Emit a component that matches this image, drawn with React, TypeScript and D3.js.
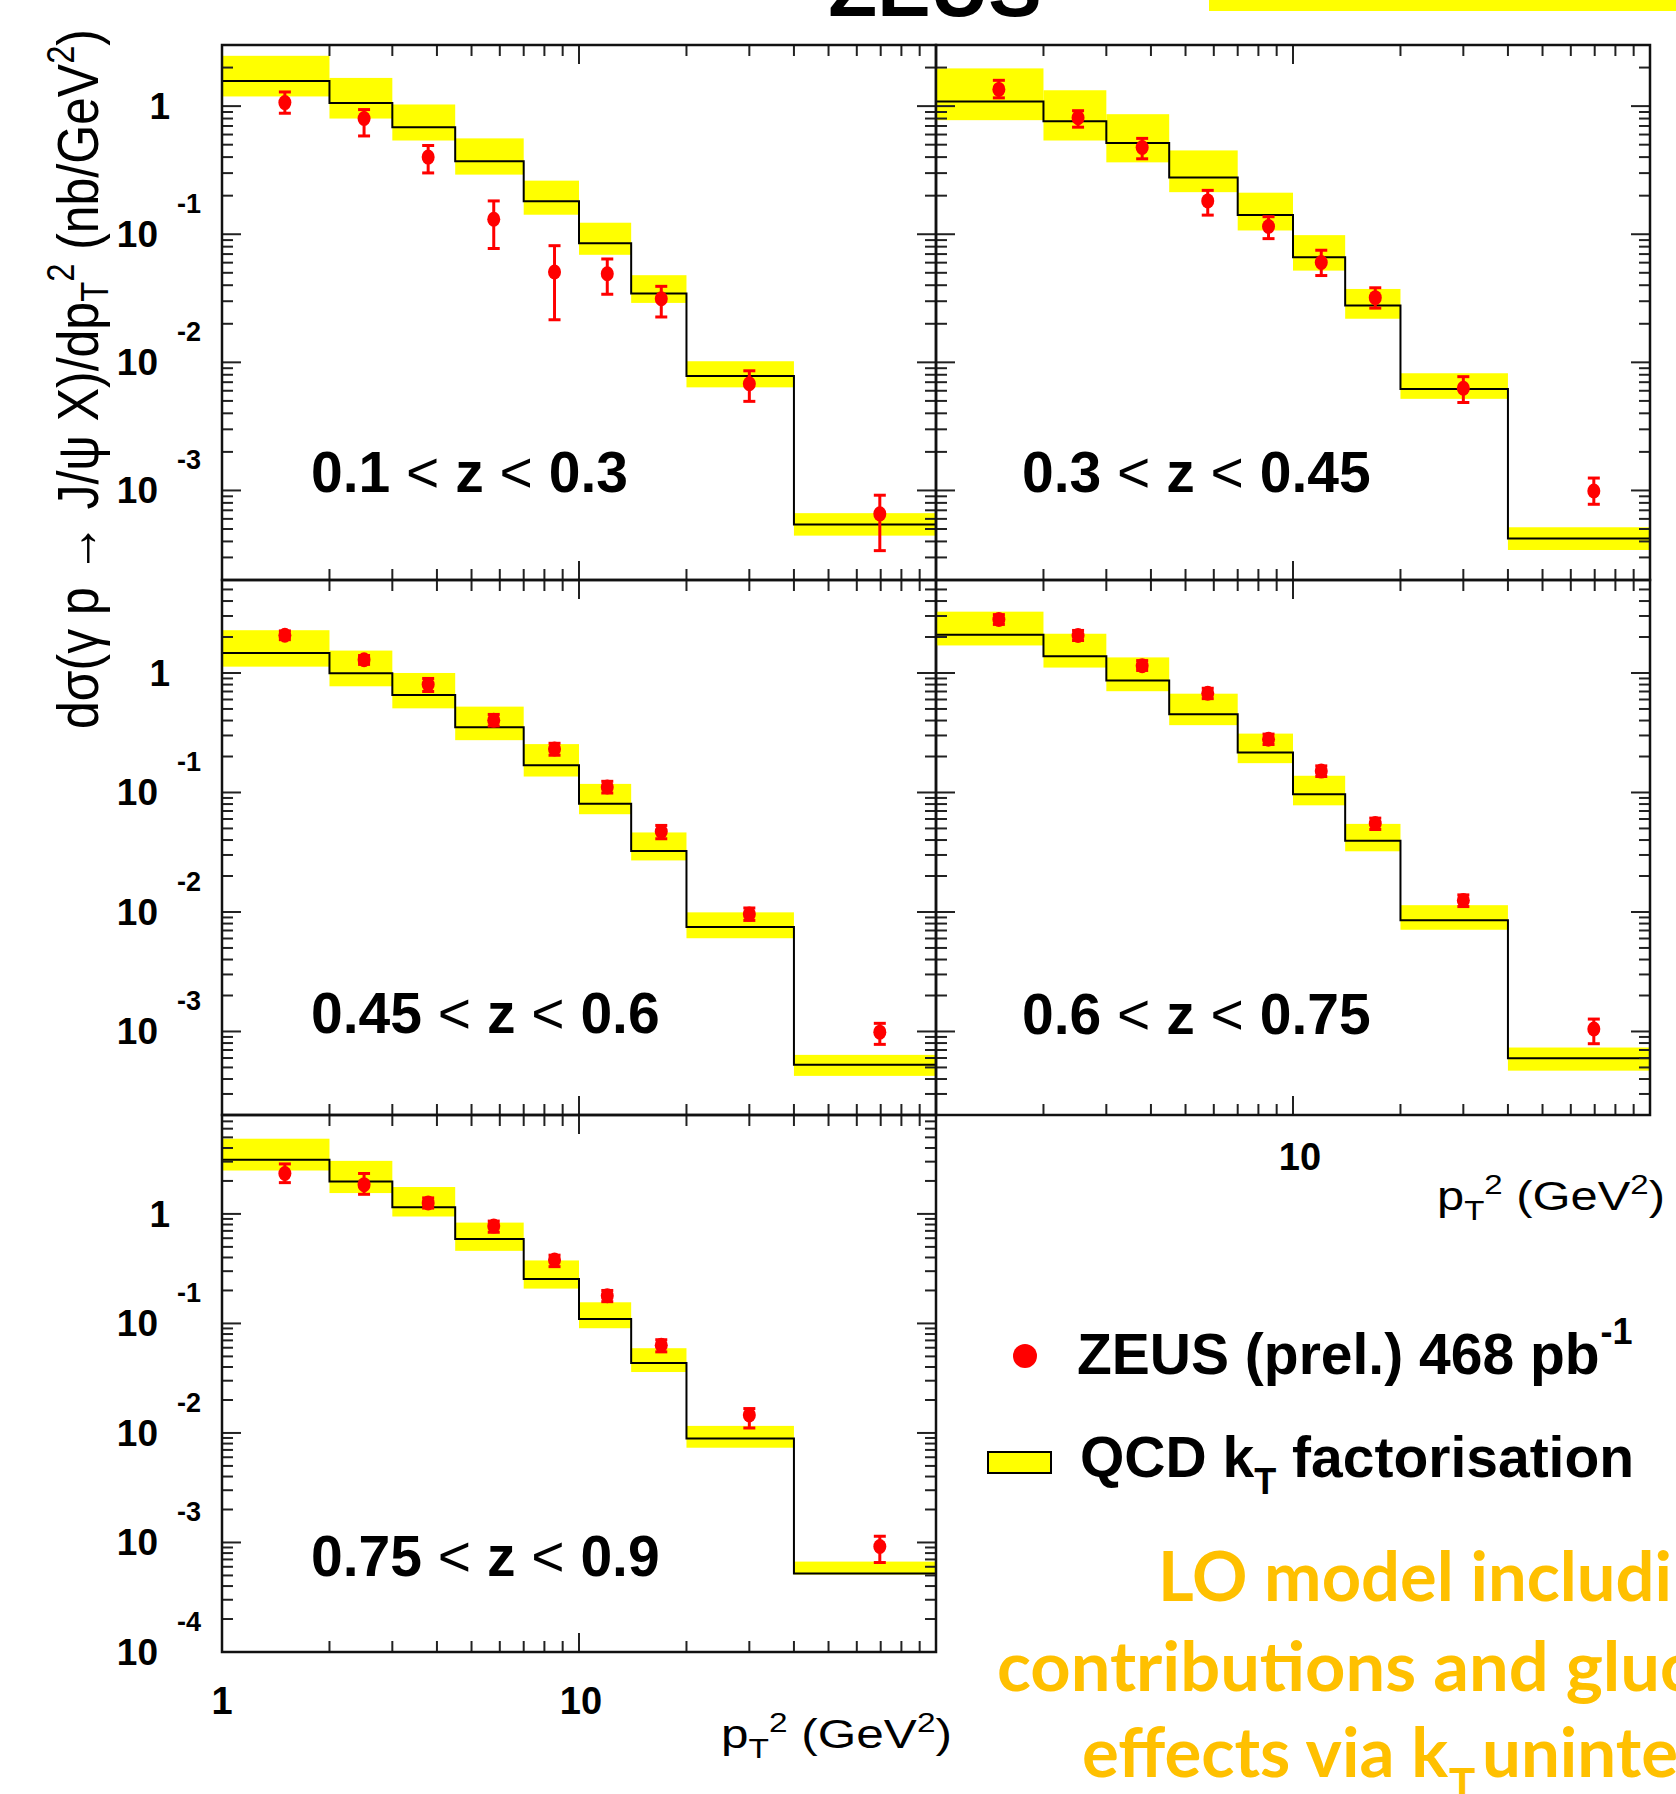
import React from "react";
import * as d3 from "d3";

// p_T^2 bins (GeV^2) and the bin centres where the data points sit
const binEdges = [1, 2, 3, 4.5, 7, 10, 14, 20, 40, 100];
const pointPt2 = [1.5, 2.5, 3.78, 5.77, 8.54, 12, 17, 30, 69.6];

const zLabels = [
  ["0.1", "0.3"],
  ["0.3", "0.45"],
  ["0.45", "0.6"],
  ["0.6", "0.75"],
  ["0.75", "0.9"],
];

// 0.1 < z < 0.3
const qcdZ1 = [1.57, 1.06, 0.684, 0.371, 0.181, 0.0851, 0.0345, 0.00782, 5.43e-4];
const qcdZ1Lo = [1.19, 0.8, 0.539, 0.292, 0.142, 0.0691, 0.0291, 0.00638, 4.44e-4];
const qcdZ1Hi = [2.47, 1.66, 1.03, 0.56, 0.262, 0.123, 0.0479, 0.0102, 6.65e-4];
const zeusZ1 = [1.065, 0.8, 0.4, 0.131, 0.0507, 0.0491, 0.0314, 0.00681, 6.57e-4];
const zeusZ1Lo = [0.88, 0.585, 0.301, 0.0774, 0.0215, 0.034, 0.0226, 0.00496, 3.39e-4];
const zeusZ1Hi = [1.29, 0.94, 0.493, 0.182, 0.0814, 0.0641, 0.0392, 0.00859, 9.18e-4];

// 0.3 < z < 0.45
const qcdZ2 = [1.086, 0.762, 0.515, 0.277, 0.141, 0.0661, 0.0278, 0.00619, 4.22e-4];
const qcdZ2Lo = [0.777, 0.539, 0.364, 0.213, 0.107, 0.052, 0.0219, 0.00519, 3.43e-4];
const qcdZ2Hi = [1.97, 1.33, 0.865, 0.451, 0.211, 0.0984, 0.0374, 0.00822, 5.16e-4];
const zeusZ2 = [1.35, 0.812, 0.475, 0.182, 0.115, 0.0601, 0.032, 0.00627, 9.9e-4];
const zeusZ2Lo = [1.16, 0.685, 0.388, 0.141, 0.0924, 0.0476, 0.0265, 0.00486, 7.8e-4];
const zeusZ2Hi = [1.59, 0.921, 0.56, 0.22, 0.137, 0.075, 0.0382, 0.00773, 1.25e-3];

// 0.45 < z < 0.6
const qcdZ3 = [1.47, 0.993, 0.653, 0.351, 0.169, 0.0805, 0.0324, 0.00748, 5.27e-4];
const qcdZ3Lo = [1.13, 0.774, 0.506, 0.274, 0.136, 0.0658, 0.027, 0.00603, 4.25e-4];
const qcdZ3Hi = [2.28, 1.54, 1.0, 0.523, 0.254, 0.118, 0.0463, 0.00993, 6.37e-4];
const zeusZ3 = [2.07, 1.29, 0.8, 0.402, 0.231, 0.111, 0.0472, 0.0096, 9.87e-4];
const zeusZ3Lo = [1.9, 1.18, 0.7, 0.36, 0.205, 0.099, 0.041, 0.0085, 7.8e-4];
const zeusZ3Hi = [2.25, 1.4, 0.9, 0.45, 0.258, 0.124, 0.053, 0.0108, 1.17e-3];

// 0.6 < z < 0.75
const qcdZ4 = [2.09, 1.38, 0.866, 0.451, 0.216, 0.0966, 0.0395, 0.00853, 5.97e-4];
const qcdZ4Lo = [1.7, 1.11, 0.704, 0.366, 0.176, 0.0781, 0.0322, 0.0071, 4.7e-4];
const qcdZ4Hi = [3.26, 2.13, 1.35, 0.671, 0.311, 0.138, 0.0546, 0.0114, 7.34e-4];
const zeusZ4 = [2.8, 2.06, 1.15, 0.676, 0.279, 0.151, 0.055, 0.0125, 1.05e-3];
const zeusZ4Lo = [2.55, 1.87, 1.05, 0.61, 0.252, 0.136, 0.049, 0.0111, 7.9e-4];
const zeusZ4Hi = [3.08, 2.27, 1.27, 0.745, 0.308, 0.167, 0.061, 0.0139, 1.27e-3];

// 0.75 < z < 0.9
const qcdZ5 = [3.13, 1.98, 1.15, 0.589, 0.254, 0.11, 0.0435, 0.00888, 5.2e-4];
const qcdZ5Lo = [2.49, 1.55, 0.947, 0.46, 0.208, 0.0904, 0.036, 0.00733, 5.1e-4];
const qcdZ5Hi = [4.86, 3.05, 1.76, 0.833, 0.376, 0.156, 0.0594, 0.0116, 6.69e-4];
const zeusZ5 = [2.34, 1.85, 1.26, 0.774, 0.38, 0.179, 0.0633, 0.0146, 9.2e-4];
const zeusZ5Lo = [1.93, 1.51, 1.13, 0.68, 0.33, 0.158, 0.055, 0.0111, 6.56e-4];
const zeusZ5Hi = [2.86, 2.34, 1.4, 0.86, 0.42, 0.2, 0.071, 0.0167, 1.14e-3];

// y-axis decades labelled per row
const rowDomain = [
  [2e-4, 3],
  [2e-4, 6],
  [1e-4, 8],
];
const rowTickExp = [
  [0, -1, -2, -3],
  [0, -1, -2, -3],
  [0, -1, -2, -3, -4],
];

// layout
const W = 1676;
const H = 1794;
const colX = [
  [222, 936],
  [936, 1650],
];
const rowY = [
  [45, 580],
  [580, 1115],
  [1115, 1652],
];
const FONT = "'Liberation Sans', Arial, Helvetica, sans-serif";

const panels = [
  { row: 0, col: 0, qcd: qcdZ1, lo: qcdZ1Lo, hi: qcdZ1Hi, d: zeusZ1, dLo: zeusZ1Lo, dHi: zeusZ1Hi, lx: 311, ly: 492 },
  { row: 0, col: 1, qcd: qcdZ2, lo: qcdZ2Lo, hi: qcdZ2Hi, d: zeusZ2, dLo: zeusZ2Lo, dHi: zeusZ2Hi, lx: 1022, ly: 492 },
  { row: 1, col: 0, qcd: qcdZ3, lo: qcdZ3Lo, hi: qcdZ3Hi, d: zeusZ3, dLo: zeusZ3Lo, dHi: zeusZ3Hi, lx: 311, ly: 1033 },
  { row: 1, col: 1, qcd: qcdZ4, lo: qcdZ4Lo, hi: qcdZ4Hi, d: zeusZ4, dLo: zeusZ4Lo, dHi: zeusZ4Hi, lx: 1022, ly: 1034 },
  { row: 2, col: 0, qcd: qcdZ5, lo: qcdZ5Lo, hi: qcdZ5Hi, d: zeusZ5, dLo: zeusZ5Lo, dHi: zeusZ5Hi, lx: 311, ly: 1576 },
];

function Panel({ p, idx }: { p: any; idx: number }) {
  const [x0, x1] = colX[p.col];
  const [y0, y1] = rowY[p.row];
  const x = d3.scaleLog().domain([1, 100]).range([x0, x1]);
  const y = d3.scaleLog().domain(rowDomain[p.row]).range([y1, y0]);
  const clipId = "clip" + idx;

  const stepPts: [number, number][] = p.qcd.map((v: number, i: number) => [binEdges[i], v]);
  stepPts.push([binEdges[binEdges.length - 1], p.qcd[p.qcd.length - 1]]);
  const stepLine = d3
    .line<[number, number]>()
    .x((d) => x(d[0]))
    .y((d) => y(d[1]))
    .curve(d3.curveStepAfter);

  const xTicks: { v: number; major: boolean }[] = [];
  for (let e = 0; e <= 1; e++)
    for (let k = 1; k <= 9; k++) xTicks.push({ v: k * Math.pow(10, e), major: k === 1 });
  xTicks.push({ v: 100, major: true });

  const [dmin, dmax] = rowDomain[p.row];
  const yTicks: { v: number; major: boolean }[] = [];
  for (let e = Math.floor(Math.log10(dmin)); e <= Math.ceil(Math.log10(dmax)); e++)
    for (let k = 1; k <= 9; k++) {
      const v = k * Math.pow(10, e);
      if (v >= dmin * 0.999 && v <= dmax * 1.001) yTicks.push({ v, major: k === 1 });
    }

  const majL = 19;
  const minL = 11;
  const [zLo, zHi] = zLabels[idx];

  return (
    <g>
      <defs>
        <clipPath id={clipId}>
          <rect x={x0} y={y0} width={x1 - x0} height={y1 - y0} />
        </clipPath>
      </defs>
      <g clipPath={`url(#${clipId})`}>
        {p.qcd.map((_: number, i: number) => (
          <rect
            key={"b" + i}
            x={x(binEdges[i])}
            width={x(binEdges[i + 1]) - x(binEdges[i])}
            y={y(p.hi[i])}
            height={y(p.lo[i]) - y(p.hi[i])}
            fill="#ffff00"
          />
        ))}
        <path d={stepLine(stepPts) || ""} fill="none" stroke="#000" strokeWidth={2} />
      </g>
      {p.d.map((v: number, i: number) => {
        const cx = x(pointPt2[i]);
        const ya = y(p.dHi[i]);
        const yb = y(p.dLo[i]);
        return (
          <g key={"p" + i} stroke="#ff0000" strokeWidth={3}>
            <line x1={cx} x2={cx} y1={ya} y2={yb} />
            <line x1={cx - 6} x2={cx + 6} y1={ya} y2={ya} />
            <line x1={cx - 6} x2={cx + 6} y1={yb} y2={yb} />
            <ellipse cx={cx} cy={y(v)} rx={6.5} ry={7.5} fill="#ff0000" stroke="none" />
          </g>
        );
      })}
      <g stroke="#222" strokeWidth={2}>
        {xTicks.map((t, i) => {
          const xx = x(t.v);
          const l = t.major ? majL : minL;
          return (
            <g key={"xt" + i}>
              <line x1={xx} x2={xx} y1={y1} y2={y1 - l} />
              <line x1={xx} x2={xx} y1={y0} y2={y0 + l} />
            </g>
          );
        })}
        {yTicks.map((t, i) => {
          const yy = y(t.v);
          const l = t.major ? majL : minL;
          return (
            <g key={"yt" + i}>
              <line x1={x0} x2={x0 + l} y1={yy} y2={yy} />
              <line x1={x1} x2={x1 - l} y1={yy} y2={yy} />
            </g>
          );
        })}
      </g>
      <rect x={x0} y={y0} width={x1 - x0} height={y1 - y0} fill="none" stroke="#111" strokeWidth={2.5} />
      <text x={p.lx} y={p.ly} fontFamily={FONT} fontSize={57} fontWeight="bold" fill="#000">
        {zLo}
        <tspan fontWeight="normal">{" < "}</tspan>z<tspan fontWeight="normal">{" < "}</tspan>
        {zHi}
      </text>
      {p.col === 0 &&
        rowTickExp[p.row].map((e) => {
          const yy = y(Math.pow(10, e));
          if (e === 0)
            return (
              <text key={"yl" + e} x={170} y={yy + 13} textAnchor="end" fontFamily={FONT} fontSize={37} fontWeight="bold">
                1
              </text>
            );
          return (
            <g key={"yl" + e} fontFamily={FONT} fontWeight="bold">
              <text x={158} y={yy + 13} textAnchor="end" fontSize={37}>
                10
              </text>
              <text x={177} y={yy - 21} fontSize={27}>
                {String(e)}
              </text>
            </g>
          );
        })}
    </g>
  );
}

function AxisTitleX({ x, y, len }: { x: number; y: number; len: number }) {
  return (
    <text x={x} y={y} fontFamily={FONT} fontSize={40} textLength={len} lengthAdjust="spacingAndGlyphs">
      p
      <tspan fontSize={27} dy={10}>
        T
      </tspan>
      <tspan fontSize={27} dy={-26}>
        2
      </tspan>
      <tspan dy={16}> (GeV</tspan>
      <tspan fontSize={27} dy={-16}>
        2
      </tspan>
      <tspan dy={16}>)</tspan>
    </text>
  );
}

export default function App() {
  const xL = d3.scaleLog().domain([1, 100]).range(colX[0]);
  const xR = d3.scaleLog().domain([1, 100]).range(colX[1]);
  return (
    <svg
      width={W}
      height={H}
      viewBox={`0 0 ${W} ${H}`}
      style={{ position: "absolute", left: 0, top: 0, display: "block", background: "#fff" }}
    >
      <rect x={0} y={0} width={W} height={H} fill="#fff" />
      {/* partially visible header */}
      <text x={935} y={16} textAnchor="middle" fontFamily={FONT} fontSize={80} fontWeight="bold">
        ZEUS
      </text>
      <rect x={1209} y={0} width={W - 1209} height={11} fill="#ffff00" />

      {panels.map((p, i) => (
        <Panel key={i} p={p} idx={i} />
      ))}

      {/* x tick labels */}
      <g fontFamily={FONT} fontWeight="bold" fontSize={38} textAnchor="middle">
        <text x={xL(1)} y={1714}>1</text>
        <text x={xL(10) + 2} y={1714}>10</text>
        <text x={xR(10) + 7} y={1170}>10</text>
      </g>
      <AxisTitleX x={721} y={1748} len={231} />
      <AxisTitleX x={1437} y={1210} len={228} />

      {/* y axis title */}
      <text
        transform="translate(98,729) rotate(-90)"
        fontFamily={FONT}
        fontSize={58}
        textLength={700}
        lengthAdjust="spacingAndGlyphs"
      >
        dσ(γ p → J/ψ X)/dp
        <tspan fontSize={38} dy={10}>
          T
        </tspan>
        <tspan fontSize={38} dy={-34}>
          2
        </tspan>
        <tspan dy={24}> (nb/GeV</tspan>
        <tspan fontSize={38} dy={-24}>
          2
        </tspan>
        <tspan dy={24}>)</tspan>
      </text>

      {/* legend */}
      <circle cx={1025} cy={1356} r={12} fill="#ff0000" />
      <text x={1077} y={1374} fontFamily={FONT} fontSize={57} fontWeight="bold">
        ZEUS (prel.) 468 pb
        <tspan fontSize={36} dy={-30} dx={1}>
          -1
        </tspan>
      </text>
      <rect x={988} y={1452} width={63} height={21} fill="#ffff00" stroke="#000" strokeWidth={2} />
      <text x={1080} y={1477} fontFamily={FONT} fontSize={57} fontWeight="bold">
        QCD k
        <tspan fontSize={36} dy={17}>
          T
        </tspan>
        <tspan dy={-17}> factorisation</tspan>
      </text>

      {/* orange annotation, cut at the page edge as in the source slide */}
      <g fontFamily="Lato, 'Open Sans', sans-serif" fontWeight="bold" fill="#ffc000" fontSize={68}>
        <text x={1158} y={1601}>
          <tspan textLength={514} lengthAdjust="spacingAndGlyphs">
            LO model includi
          </tspan>
          <tspan>ng</tspan>
        </text>
        <text x={997} y={1691}>
          <tspan textLength={663} lengthAdjust="spacingAndGlyphs">
            contributions and glu
          </tspan>
          <tspan>on</tspan>
        </text>
        <text x={1082} y={1777}>
          <tspan textLength={366} lengthAdjust="spacingAndGlyphs">
            effects via k
          </tspan>
        </text>
        <text x={1449} y={1800} fontSize={44}>
          T
        </text>
        <text x={1482} y={1777}>
          <tspan textLength={196} lengthAdjust="spacingAndGlyphs">
            uninte
          </tspan>
          <tspan>grated</tspan>
        </text>
      </g>
    </svg>
  );
}
